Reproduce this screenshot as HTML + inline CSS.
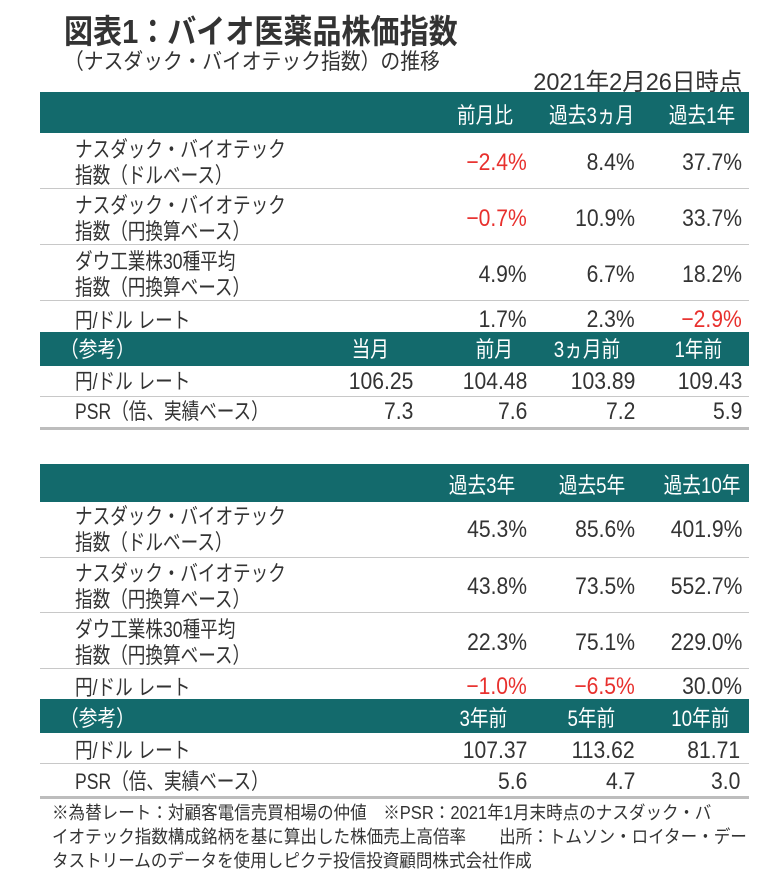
<!DOCTYPE html>
<html><head><meta charset="utf-8"><style>
body{margin:0;background:#fff;}
#root{position:relative;width:774px;height:887px;overflow:hidden;background:#fff;font-family:"Liberation Sans","Noto Sans CJK JP",sans-serif;color:#333;}
.t{position:absolute;white-space:nowrap;}
.l{transform-origin:left center;}
.r{transform-origin:right center;}
.band{position:absolute;left:40px;width:709px;background:#136a6c;}
.line{position:absolute;left:40px;width:709px;height:1px;background:#c8c8c8;}
.thick{position:absolute;left:40px;width:709px;height:3px;background:#bdbdbd;}
.red{color:#e8302d;}
.w{color:#fff;}
</style></head><body>
<div id="root">
<div class="t l" style="left:64px;top:14px;font-size:33px;line-height:36px;font-weight:bold;transform:scaleX(0.88);">図表1：バイオ医薬品株価指数</div>
<div class="t l" style="left:64px;top:50px;font-size:22px;line-height:24px;transform:scaleX(0.9);">（ナスダック・バイオテック指数）の推移</div>
<div class="t r" style="right:32px;top:70px;font-size:24px;line-height:26px;transform:scaleX(0.98);">2021年2月26日時点</div>
<div id="tables"></div>
<div class="t l" style="left:52px;top:803px;font-size:18px;line-height:20px;transform:scaleX(0.92);">※為替レート：対顧客電信売買相場の仲値　※PSR：2021年1月末時点のナスダック・バ</div>
<div class="t l" style="left:52px;top:827px;font-size:18px;line-height:20px;transform:scaleX(0.92);">イオテック指数構成銘柄を基に算出した株価売上高倍率　　出所：トムソン・ロイター・デー</div>
<div class="t l" style="left:52px;top:851px;font-size:18px;line-height:20px;transform:scaleX(0.92);">タストリームのデータを使用しピクテ投信投資顧問株式会社作成</div>
</div>
<script>
const t1Headers=["前月比","過去3ヵ月","過去1年"];
const t1Labels=[["ナスダック・バイオテック","指数（ドルベース）"],["ナスダック・バイオテック","指数（円換算ベース）"],["ダウ工業株30種平均","指数（円換算ベース）"],["円/ドル レート"]];
const t1Values=[["−2.4%","8.4%","37.7%"],["−0.7%","10.9%","33.7%"],["4.9%","6.7%","18.2%"],["1.7%","2.3%","−2.9%"]];
const t1RefHeaders=["当月","前月","3ヵ月前","1年前"];
const t1RefRows=[["円/ドル レート","106.25","104.48","103.89","109.43"],["PSR（倍、実績ベース）","7.3","7.6","7.2","5.9"]];
const t2Headers=["過去3年","過去5年","過去10年"];
const t2Values=[["45.3%","85.6%","401.9%"],["43.8%","73.5%","552.7%"],["22.3%","75.1%","229.0%"],["−1.0%","−6.5%","30.0%"]];
const t2RefHeaders=["3年前","5年前","10年前"];
const t2RefRows=[["円/ドル レート","107.37","113.62","81.71"],["PSR（倍、実績ベース）","5.6","4.7","3.0"]];

const root=document.getElementById('tables');
function txt(s,x,cy,fs,sx,right,cls,name){
  const d=document.createElement('div');
  d.className='t '+(right?'r':'l')+(cls?' '+cls:'');
  
  
  d.style.fontSize=fs+'px';d.style.lineHeight=(fs+4)+'px';
  d.style.top=(cy-(fs+4)/2)+'px';
  if(right)d.style.right=(774-x)+'px';else d.style.left=x+'px';
  d.style.transform='scaleX('+sx+')';
  d.textContent=s;root.appendChild(d);
}
function box(cls,top,h,name){
  const d=document.createElement('div');d.className=cls;
  
  
  d.style.top=top+'px';if(h)d.style.height=h+'px';root.appendChild(d);
}
const colsR=[527,635,742];
const hdrR=[513,634,735];
const LBL=22,LSX=0.8,NUM=24,NSX=0.88;
function isNeg(s){return s.indexOf('−')===0;}
function table(o){
  box('band',o.bandTop,o.bandH,'header-band');
  o.headers.forEach((h,i)=>txt(h,o.hdrR[i],o.hdrCy,22,0.85,true,'w','column-header'));
  o.rows.forEach((r,i)=>{
    const cy=o.rowCy[i];
    if(t1Labels[i].length===2){
      txt(t1Labels[i][0],75,cy-13,LBL,LSX,false,'','row-label');
      txt(t1Labels[i][1],75,cy+13,LBL,LSX,false,'','row-label');
    } else txt(t1Labels[i][0],75,cy+1,LBL,LSX,false,'','row-label');
    r.forEach((v,j)=>txt(v,colsR[j],cy,NUM,NSX,true,isNeg(v)?'red':'','value-cell'));
    if(i<o.rows.length-1)box('line',o.lineY[i],0,'row-divider');
  });
  box('band',o.band2Top,o.band2H,'reference-band');
  txt('（参考）',60,o.hdr2Cy,22,0.85,false,'w','reference-header');
  o.refHeaders.forEach((h,i)=>txt(h,o.ref2R[i],o.hdr2Cy,22,0.85,true,'w','reference-column-header'));
  o.refRows.forEach((r,i)=>{
    const cy=o.refCy[i];
    txt(r[0],75,cy,LBL,LSX,false,'','reference-row-label');
    r.slice(1).forEach((v,j)=>txt(v,o.refValR[j],cy,NUM,NSX,true,'','reference-value'));
  });
  box('line',o.refLine,0,'row-divider');
  box('thick',o.thick,0,'table-bottom-rule');
}
table({bandTop:92,bandH:41,headers:t1Headers,hdrR:hdrR,hdrCy:116,rows:t1Values,
  rowCy:[163,219,275,320],lineY:[188,244,300],band2Top:332,band2H:34,hdr2Cy:350,
  refHeaders:t1RefHeaders,ref2R:[389,513,620,722],refRows:t1RefRows,refCy:[382,412],
  refValR:[413,527,635,742],refLine:396,thick:427});
table({bandTop:464,bandH:38,headers:t2Headers,hdrR:[515,625,740],hdrCy:486,rows:t2Values,
  rowCy:[530,587,643,687],lineY:[557,612,668],band2Top:699,band2H:34,hdr2Cy:719,
  refHeaders:t2RefHeaders,ref2R:[507,615,729],refRows:t2RefRows,refCy:[751,782],
  refValR:[527,635,740],refLine:763,thick:796});
</script>
</body></html>
